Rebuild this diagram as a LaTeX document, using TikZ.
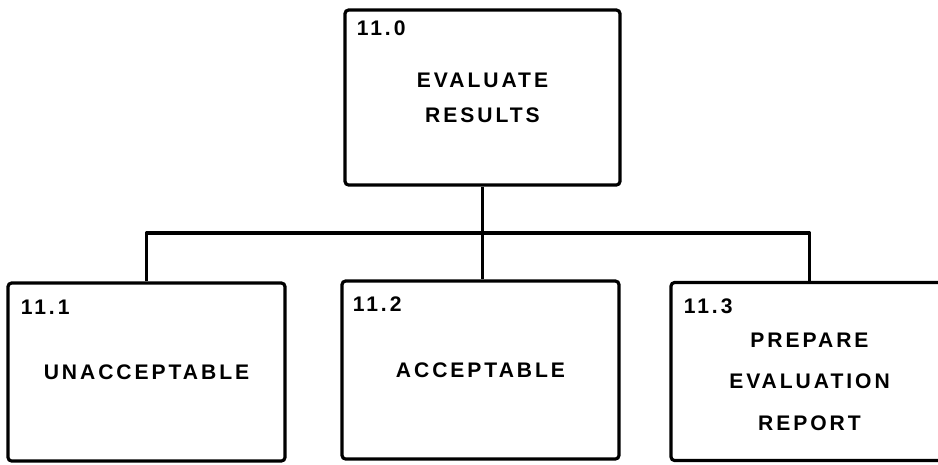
\documentclass[tikz,border=0pt]{standalone}
\usepackage{fontspec}
\newfontfamily\lettering{Liberation Sans Bold}[LetterSpace=14]
\usetikzlibrary{positioning}
\tikzset{
	taskbox/.style={draw, line width=1.8pt, rounded corners=2pt, minimum width=5.54cm,
		minimum height=3.56cm, align=center, inner sep=0pt,
		font=\lettering\fontsize{12}{20}\selectfont},
	tasktext/.style={align=center, inner sep=0pt,
		font=\lettering\fontsize{12}{20}\selectfont},
	tasknum/.style={anchor=north west, inner sep=0pt,
		font=\lettering\fontsize{12}{14}\selectfont},
	treelink/.style={line width=1.8pt, line join=round},
}

\begin{document}
\begin{tikzpicture}[x=0.02cm, y=-0.02cm]
	\useasboundingbox (0,0) rectangle (938,464);

	% parent task
	\node[taskbox, minimum width=5.5cm, minimum height=3.5cm] (t110) at (482.5,97.5)
		{EVALUATE\\[-0.2pt]RESULTS};

	% sub-tasks, the right one runs off the page edge
	\node[taskbox] (t111) at (146.5,372) {UNACCEPTABLE};
	\node[taskbox] (t112) at (480.5,370) {ACCEPTABLE};
	\node[taskbox] (t113) at (809.5,371.5) {};
	\node[tasktext] (t113txt) at ([shift={(0,10)}]t113.center)
		{PREPARE\\[3.6pt]EVALUATION\\[3.6pt]REPORT};

	% task numbers in the top left corners
	\node[tasknum] (n110) at ([shift={(13,12)}]t110.north west) {11.0};
	\node[tasknum] (n111) at ([shift={(14,18)}]t111.north west) {11.1};
	\node[tasknum] (n112) at ([shift={(12,17)}]t112.north west) {11.2};
	\node[tasknum] (n113) at ([shift={(14,17)}]t113.north west) {11.3};

	% tree connectors
	\coordinate (bar) at (482,233);
	\draw[treelink] (t110.south) -- (t110.south |- t112.north);
	\draw[treelink] (t111.north) |- (bar) -| (t113.north);
\end{tikzpicture}
\end{document}
